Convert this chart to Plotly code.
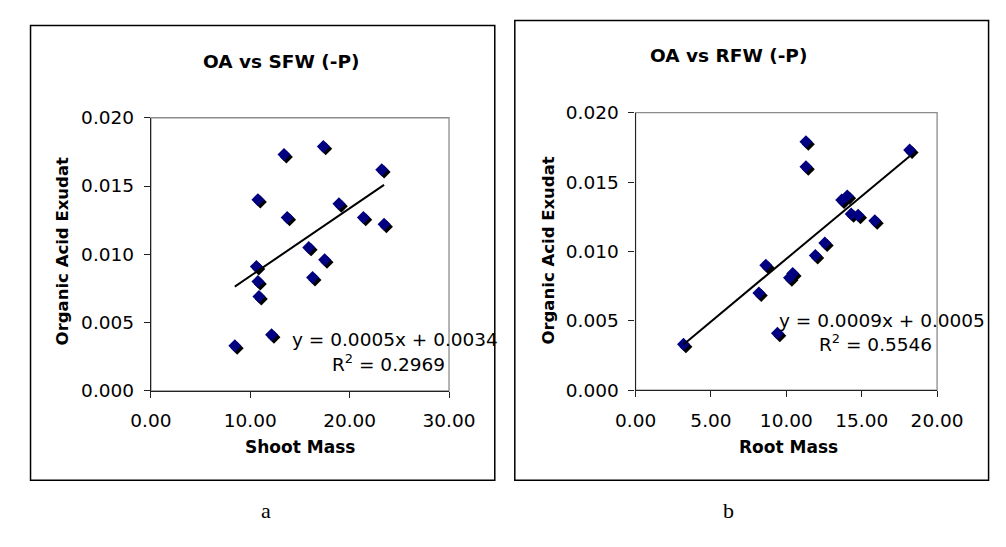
import numpy as np
import plotly.graph_objects as go

W, H = 1006, 547

# ---- data ----
shoot_mass = [8.44, 12.14, 10.77, 13.39, 17.35, 23.23, 13.71, 18.92, 21.38, 23.46,
              15.88, 17.48, 16.27, 10.61, 10.77, 10.87]
oa_shoot = [0.0033, 0.0041, 0.0140, 0.0173, 0.0179, 0.0162, 0.0127, 0.0137, 0.0127, 0.0122,
            0.0105, 0.0096, 0.0083, 0.0091, 0.0080, 0.0069]
root_mass = [3.18, 9.41, 8.18, 8.64, 10.21, 10.42, 11.92, 12.55, 11.30, 11.30,
             13.67, 14.04, 14.30, 14.76, 15.87, 18.18]
oa_root = [0.0033, 0.0041, 0.0070, 0.0090, 0.0081, 0.0084, 0.0097, 0.0106, 0.0179, 0.0161,
           0.0137, 0.0140, 0.0127, 0.0126, 0.0122, 0.0173]

titles = ["OA vs SFW (-P)", "OA vs RFW (-P)"]
x_titles = ["Shoot Mass", "Root Mass"]
y_title = "Organic Acid Exudat"
eq_texts = ["y = 0.0005x + 0.0034", "y = 0.0009x + 0.0005"]
r2_texts = ["R<sup>2</sup> = 0.2969", "R<sup>2</sup> = 0.5546"]
panel_labels = ["a", "b"]

FONT = "DejaVu Sans"

def fx(p):
    return p / W

def fy(p):
    return 1 - p / H

fig = go.Figure()

panels = [
    dict(x=shoot_mass, y=oa_shoot, xr=[0, 30], dt=10,
         dom_x=[136.3, 449], dom_y=[395, 111], xa="x", ya="y"),
    dict(x=root_mass, y=oa_root, xr=[0, 20], dt=5,
         dom_x=[644.7, 961], dom_y=[394.3, 105.7], xa="x2", ya="y2"),
]

for i, p in enumerate(panels):
    xs = np.array(p["x"]); ys = np.array(p["y"])
    ppx = (p["dom_x"][1] - p["dom_x"][0]) / (p["xr"][1] - p["xr"][0])
    ppy = (p["dom_y"][0] - p["dom_y"][1]) / 0.02
    fig.add_trace(go.Scatter(x=xs + 2.5 / ppx, y=ys - 2.5 / ppy, mode="markers",
                             marker=dict(symbol="diamond", size=10, color="black"),
                             xaxis=p["xa"], yaxis=p["ya"], showlegend=False, hoverinfo="skip"))
    fig.add_trace(go.Scatter(x=xs, y=ys, mode="markers",
                             marker=dict(symbol="diamond", size=10, color="#000080"),
                             xaxis=p["xa"], yaxis=p["ya"], showlegend=False))
    m, b = np.polyfit(xs, ys, 1)
    lx = np.array([xs.min(), xs.max()])
    fig.add_trace(go.Scatter(x=lx, y=m * lx + b, mode="lines",
                             line=dict(color="black", width=2),
                             xaxis=p["xa"], yaxis=p["ya"], showlegend=False))

axis_common = dict(showgrid=False, zeroline=False, showline=True, linecolor="#222",
                   linewidth=1.3, ticks="outside", ticklen=6, tickcolor="#222",
                   tickfont=dict(family=FONT, size=18.5, color="black"))

fig.update_layout(
    width=W, height=H, margin=dict(l=0, r=0, t=0, b=0),
    paper_bgcolor="white", plot_bgcolor="white",
    xaxis=dict(domain=[fx(136.3), fx(449)], range=[0, 30], dtick=10, tickformat=".2f",
               anchor="y", ticklabelstandoff=7, **axis_common),
    yaxis=dict(domain=[fy(395), fy(111)], range=[0, 0.02], dtick=0.005, tickformat=".3f",
               anchor="x", ticklabelstandoff=6, **axis_common),
    xaxis2=dict(domain=[fx(644.7), fx(961)], range=[0, 20], dtick=5, tickformat=".2f",
                anchor="y2", ticklabelstandoff=7, **axis_common),
    yaxis2=dict(domain=[fy(394.3), fy(105.7)], range=[0, 0.02], dtick=0.005, tickformat=".3f",
                anchor="x2", ticklabelstandoff=6, **axis_common),
)

shapes = [
    dict(type="rect", xref="paper", yref="paper", x0=fx(10), x1=fx(497), y0=fy(488), y1=fy(15),
         line=dict(color="black", width=1.5), layer="below"),
    dict(type="rect", xref="paper", yref="paper", x0=fx(518), x1=fx(1015), y0=fy(488), y1=fy(10),
         line=dict(color="black", width=1.5), layer="below"),
    dict(type="rect", xref="x domain", yref="y domain", x0=0, x1=1, y0=0, y1=1,
         line=dict(color="#8c8c8c", width=1.3), layer="below"),
    dict(type="rect", xref="x2 domain", yref="y2 domain", x0=0, x1=1, y0=0, y1=1,
         line=dict(color="#8c8c8c", width=1.3), layer="below"),
]
fig.update_layout(shapes=shapes)

ann = []
title_pos = [(273, 52), (742, 46)]
xt_pos = [(293, 453), (805, 453)]
yt_pos = [(43, 250), (553, 249)]
eq_pos = [(282, 342), (793, 322)]
r2_pos = [(447, 366), (958, 345)]
lab_pos = [(257, 519), (742, 519)]
for i in range(2):
    ann.append(dict(text="<b>%s</b>" % titles[i], x=fx(title_pos[i][0]), y=fy(title_pos[i][1]),
                    xref="paper", yref="paper", showarrow=False, xanchor="center", yanchor="middle",
                    font=dict(family=FONT, size=18.5, color="black")))
    ann.append(dict(text="<b>%s</b>" % x_titles[i], x=fx(xt_pos[i][0]), y=fy(xt_pos[i][1]),
                    xref="paper", yref="paper", showarrow=False, xanchor="center", yanchor="middle",
                    font=dict(family=FONT, size=17, color="black")))
    ann.append(dict(text="<b>%s</b>" % y_title, x=fx(yt_pos[i][0]), y=fy(yt_pos[i][1]),
                    xref="paper", yref="paper", showarrow=False, xanchor="center", yanchor="middle",
                    textangle=-90, font=dict(family=FONT, size=16.5, color="black")))
    ann.append(dict(text=eq_texts[i], x=fx(eq_pos[i][0]), y=fy(eq_pos[i][1]),
                    xref="paper", yref="paper", showarrow=False, xanchor="left", yanchor="middle",
                    font=dict(family=FONT, size=18.5, color="black")))
    ann.append(dict(text=r2_texts[i], x=fx(r2_pos[i][0]), y=fy(r2_pos[i][1]),
                    xref="paper", yref="paper", showarrow=False, xanchor="right", yanchor="middle",
                    font=dict(family=FONT, size=18.5, color="black")))
    ann.append(dict(text=panel_labels[i], x=fx(lab_pos[i][0]), y=fy(lab_pos[i][1]),
                    xref="paper", yref="paper", showarrow=False, xanchor="center", yanchor="middle",
                    font=dict(family="Liberation Serif", size=22, color="black")))
fig.update_layout(annotations=ann)

fig.write_html("out.html")
